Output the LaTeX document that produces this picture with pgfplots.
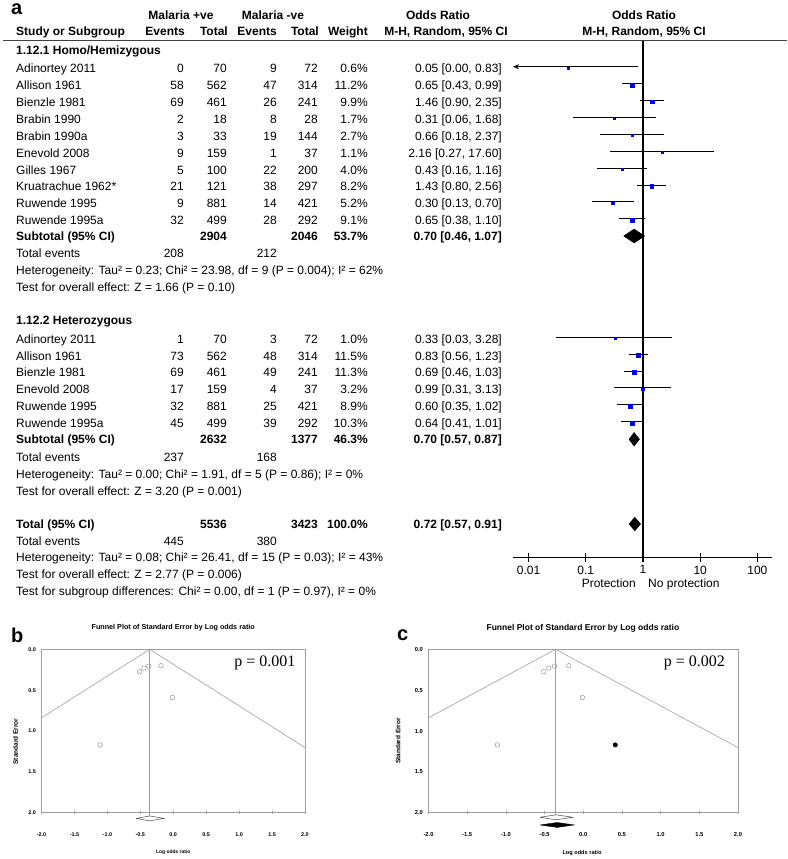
\documentclass[border=0pt]{standalone}
\usepackage{pgfplots}
\pgfplotsset{compat=1.18}
\usepackage{fontspec}
\setmainfont{Liberation Sans}
\newfontfamily\timesfont{Liberation Serif}
\usetikzlibrary{arrows.meta}
\newcommand\fs{\fontsize{12}{14}\selectfont}
\newcommand\TL[3]{\node[anchor=mid west,inner sep=0pt,font=\fs] at (#1pt,-#2pt) {#3};}
\newcommand\TR[3]{\node[anchor=mid east,inner sep=0pt,font=\fs] at (#1pt,-#2pt) {#3};}
\newcommand\TC[3]{\node[anchor=mid,inner sep=0pt,font=\fs] at (#1pt,-#2pt) {#3};}
\newcommand\BL[3]{\node[anchor=mid west,inner sep=0pt,font=\fs\bfseries] at (#1pt,-#2pt) {#3};}
\newcommand\BR[3]{\node[anchor=mid east,inner sep=0pt,font=\fs\bfseries] at (#1pt,-#2pt) {#3};}
\newcommand\BC[3]{\node[anchor=mid,inner sep=0pt,font=\fs\bfseries] at (#1pt,-#2pt) {#3};}
\newcommand\Row[7]{\TL{16}{#1}{#2}\TR{184}{#1}{#3}\TR{227}{#1}{#4}\TR{277}{#1}{#5}\TR{318}{#1}{#6}\TR{368}{#1}{#7}}

\begin{document}
\begin{tikzpicture}
\useasboundingbox (0pt,0pt) rectangle (787pt,-859pt);

% ---------------- panel a: table text ----------------
\node[anchor=west,inner sep=0pt,font=\fontsize{20}{22}\selectfont\bfseries] at (11pt,-9pt) {a};
\BC{181}{16.7}{Malaria +ve}
\BC{273}{16.7}{Malaria -ve}
\BC{438}{16.7}{Odds Ratio}
\BC{644}{16.7}{Odds Ratio}
\BL{16}{33.3}{Study or Subgroup}
\BR{185}{33.3}{Events}
\BR{228}{33.3}{Total}
\BR{277}{33.3}{Events}
\BR{319}{33.3}{Total}
\BR{368}{33.3}{Weight}
\BC{446}{33.3}{M-H, Random, 95\% CI}
\BC{644}{33.3}{M-H, Random, 95\% CI}
\draw[line width=1.2pt, black!75] (3pt,-40.7pt) -- (787pt,-40.7pt);

\BL{16}{52}{1.12.1 Homo/Hemizygous}
\Row{70}{Adinortey 2011}{0}{70}{9}{72}{0.6\%}
\Row{86.9}{Allison 1961}{58}{562}{47}{314}{11.2\%}
\Row{103.8}{Bienzle 1981}{69}{461}{26}{241}{9.9\%}
\Row{120.7}{Brabin 1990}{2}{18}{8}{28}{1.7\%}
\Row{137.6}{Brabin 1990a}{3}{33}{19}{144}{2.7\%}
\Row{154.5}{Enevold 2008}{9}{159}{1}{37}{1.1\%}
\Row{171.4}{Gilles 1967}{5}{100}{22}{200}{4.0\%}
\Row{188.3}{Kruatrachue 1962*}{21}{121}{38}{297}{8.2\%}
\Row{205.2}{Ruwende 1995}{9}{881}{14}{421}{5.2\%}
\Row{222.1}{Ruwende 1995a}{32}{499}{28}{292}{9.1\%}
\BL{16}{238}{Subtotal (95\% CI)}
\BR{227}{238}{2904}
\BR{318}{238}{2046}
\BR{368}{238}{53.7\%}
\TL{16}{255}{Total events}
\TR{184}{255}{208}
\TR{277}{255}{212}
\TL{16}{271.8}{Heterogeneity: Tau² = 0.23; Chi² = 23.98, df = 9 (P = 0.004); I² = 62\%}
\TL{16}{288.5}{Test for overall effect: Z = 1.66 (P = 0.10)}

\BL{16}{322}{1.12.2 Heterozygous}
\Row{340.5}{Adinortey 2011}{1}{70}{3}{72}{1.0\%}
\Row{357.4}{Allison 1961}{73}{562}{48}{314}{11.5\%}
\Row{374.3}{Bienzle 1981}{69}{461}{49}{241}{11.3\%}
\Row{391.2}{Enevold 2008}{17}{159}{4}{37}{3.2\%}
\Row{408.1}{Ruwende 1995}{32}{881}{25}{421}{8.9\%}
\Row{425}{Ruwende 1995a}{45}{499}{39}{292}{10.3\%}
\BL{16}{441}{Subtotal (95\% CI)}
\BR{227}{441}{2632}
\BR{318}{441}{1377}
\BR{368}{441}{46.3\%}
\TL{16}{459}{Total events}
\TR{184}{459}{237}
\TR{277}{459}{168}
\TL{16}{476}{Heterogeneity: Tau² = 0.00; Chi² = 1.91, df = 5 (P = 0.86); I² = 0\%}
\TL{16}{493}{Test for overall effect: Z = 3.20 (P = 0.001)}

\BL{16}{525.5}{Total (95\% CI)}
\BR{227}{525.5}{5536}
\BR{318}{525.5}{3423}
\BR{368}{525.5}{100.0\%}
\TL{16}{542.5}{Total events}
\TR{184}{542.5}{445}
\TR{277}{542.5}{380}
\TL{16}{559}{Heterogeneity: Tau² = 0.08; Chi² = 26.41, df = 15 (P = 0.03); I² = 43\%}
\TL{16}{575.7}{Test for overall effect: Z = 2.77 (P = 0.006)}
\TL{16}{592.5}{Test for subgroup differences: Chi² = 0.00, df = 1 (P = 0.97), I² = 0\%}

% odds ratio text column
\TR{502}{70}{0.05 [0.00, 0.83]}
\TR{502}{86.9}{0.65 [0.43, 0.99]}
\TR{502}{103.8}{1.46 [0.90, 2.35]}
\TR{502}{120.7}{0.31 [0.06, 1.68]}
\TR{502}{137.6}{0.66 [0.18, 2.37]}
\TR{502}{154.5}{2.16 [0.27, 17.60]}
\TR{502}{171.4}{0.43 [0.16, 1.16]}
\TR{502}{188.3}{1.43 [0.80, 2.56]}
\TR{502}{205.2}{0.30 [0.13, 0.70]}
\TR{502}{222.1}{0.65 [0.38, 1.10]}
\BR{502}{238}{0.70 [0.46, 1.07]}
\TR{502}{340.5}{0.33 [0.03, 3.28]}
\TR{502}{357.4}{0.83 [0.56, 1.23]}
\TR{502}{374.3}{0.69 [0.46, 1.03]}
\TR{502}{391.2}{0.99 [0.31, 3.13]}
\TR{502}{408.1}{0.60 [0.35, 1.02]}
\TR{502}{425}{0.64 [0.41, 1.01]}
\BR{502}{441}{0.70 [0.57, 0.87]}
\BR{502}{525.5}{0.72 [0.57, 0.91]}

\TR{636}{584.8}{Protection}
\TL{648}{584.8}{No protection}

% ---------------- panel a: forest plot ----------------
\begin{axis}[
  at={(513pt,-40.7pt)}, anchor=north west,
  width=259pt, height=517pt, scale only axis,
  xmode=log, xmin=0.00535, xmax=180,
  ymin=-557.7, ymax=-40.7,
  axis x line=bottom, axis y line=none,
  x axis line style={-, line width=1.2pt},
  xtick={0.01,0.1,1,10,100},
  xticklabels={0.01,0.1,1,10,100},
  xminorticks=false,
  xtick align=center, major tick length=9pt,
  xtick style={line width=1.2pt, black},
  /pgf/number format/assume math mode=true,
  xticklabel style={font=\fs, yshift=0pt},
  clip=false,
]
\addplot[black, line width=1.1pt] coordinates {(1,-40.7) (1,-557.7)};
\addplot[black, line width=0.9pt, unbounded coords=jump] table {
x y
0.43 -83.6
0.99 -83.6
nan nan
0.90 -100.5
2.35 -100.5
nan nan
0.06 -117.4
1.68 -117.4
nan nan
0.18 -134.3
2.37 -134.3
nan nan
0.27 -151.2
17.60 -151.2
nan nan
0.16 -168.1
1.16 -168.1
nan nan
0.80 -185
2.56 -185
nan nan
0.13 -201.9
0.70 -201.9
nan nan
0.38 -218.8
1.10 -218.8
nan nan
0.03 -337.2
3.28 -337.2
nan nan
0.56 -354.1
1.23 -354.1
nan nan
0.46 -371
1.03 -371
nan nan
0.31 -387.9
3.13 -387.9
nan nan
0.35 -404.8
1.02 -404.8
nan nan
0.41 -421.7
1.01 -421.7
};
\addplot[black, line width=0.9pt, -{Stealth[length=6pt,width=5pt]}] coordinates {(0.83,-66.7) (0.00535,-66.7)};
\addplot[scatter, only marks, mark=square*,
  scatter/use mapped color={draw=blue, fill=blue},
  visualization depends on={\thisrow{ms} \as \msz},
  scatter/@pre marker code/.append style={/tikz/mark size=\msz}]
 table {
x y ms
0.05 -68 0.85
0.65 -84.9 2.0
1.46 -101.8 1.89
0.31 -118.7 0.85
0.66 -135.6 0.99
2.16 -152.5 0.85
0.43 -169.4 1.2
1.43 -186.3 1.72
0.30 -203.2 1.37
0.65 -220.1 1.81
0.33 -338.5 0.85
0.83 -355.4 2.03
0.69 -372.3 2.02
0.99 -389.2 1.07
0.60 -406.1 1.79
0.64 -423 1.93
};
\addplot[fill=black, draw=black] coordinates {(0.46,-236) (0.70,-229) (1.07,-236) (0.70,-243) (0.46,-236)};
\addplot[fill=black, draw=black] coordinates {(0.57,-439.3) (0.70,-432.5) (0.87,-439.3) (0.70,-446.1) (0.57,-439.3)};
\addplot[fill=black, draw=black] coordinates {(0.57,-524) (0.72,-517.2) (0.91,-524) (0.72,-530.8) (0.57,-524)};
\end{axis}

% ---------------- panel b ----------------
\node[anchor=west,inner sep=0pt,font=\fontsize{20}{22}\selectfont\bfseries] at (11pt,-635pt) {b};
\begin{axis}[
  at={(41.5pt,-812.7pt)}, anchor=south west,
  width=263.5pt, height=163.4pt, scale only axis,
  xmin=-2, xmax=2, ymin=-2, ymax=0,
  clip=false,
  axis line style={gray!75, line width=0.6pt},
  xtick={-2,-1.5,-1,-0.5,0,0.5,1,1.5,2},
  xticklabels={-2.0,-1.5,-1.0,-0.5,0.0,0.5,1.0,1.5,2.0},
  ytick={-2,-1.5,-1,-0.5,0},
  yticklabels={2.0,1.5,1.0,0.5,0.0},
  xtick pos=bottom, ytick pos=left,
  xtick align=center, major tick length=2.5pt,
  xtick style={gray!75, line width=0.6pt}, ytick style={draw=none},
  tick label style={font=\fontsize{5.4}{6}\selectfont\bfseries},
  /pgf/number format/assume math mode=true,
  xticklabel style={yshift=-15pt},
  yticklabel style={xshift=-2pt},
  title={Funnel Plot of Standard Error by Log odds ratio},
  title style={at={(axis description cs:0.5,1.094)}, anchor=center, font=\fontsize{7.2}{8}\selectfont\bfseries},
  xlabel={Log odds ratio},
  xlabel style={at={(axis description cs:0.5,-0.245)}, anchor=center, font=\fontsize{4.9}{5}\selectfont\bfseries},
  ylabel={Standard Error},
  ylabel style={at={(axis description cs:-0.0987,0.436)}, anchor=center, font=\fontsize{6.5}{7}\selectfont\bfseries},
]
\addplot[gray!75, line width=0.6pt] coordinates {(-2,-0.838) (-0.357,0) (2,-1.2026)};
\addplot[gray!75, line width=0.6pt] coordinates {(-0.357,0) (-0.357,-2.07)};
\addplot[draw=gray!60!black, fill=white, line width=0.5pt] coordinates {(-0.562,-2.07) (-0.357,-2.04) (-0.139,-2.07) (-0.357,-2.10) (-0.562,-2.07)};
\addplot[only marks, mark=o, mark size=2.3pt, gray!80, mark options={line width=0.5pt}] table {
x y
-0.511 -0.273
-0.446 -0.230
-0.371 -0.206
-0.186 -0.201
-0.010 -0.590
-1.109 -1.170
};
\node[font=\timesfont\fontsize{16}{18}\selectfont] at (axis description cs:0.848,0.916) {p = 0.001};
\end{axis}

% ---------------- panel c ----------------
\node[anchor=west,inner sep=0pt,font=\fontsize{20}{22}\selectfont\bfseries] at (397pt,-635pt) {c};
\begin{axis}[
  at={(428.5pt,-812.7pt)}, anchor=south west,
  width=309.5pt, height=163.4pt, scale only axis,
  xmin=-2, xmax=2, ymin=-2, ymax=0,
  clip=false,
  axis line style={gray!75, line width=0.6pt},
  xtick={-2,-1.5,-1,-0.5,0,0.5,1,1.5,2},
  xticklabels={-2.0,-1.5,-1.0,-0.5,0.0,0.5,1.0,1.5,2.0},
  ytick={-2,-1.5,-1,-0.5,0},
  yticklabels={2.0,1.5,1.0,0.5,0.0},
  xtick pos=bottom, ytick pos=left,
  xtick align=center, major tick length=2.5pt,
  xtick style={gray!75, line width=0.6pt}, ytick style={draw=none},
  tick label style={font=\fontsize{5.8}{6}\selectfont\bfseries},
  /pgf/number format/assume math mode=true,
  xticklabel style={yshift=-15pt},
  yticklabel style={xshift=-2pt},
  title={Funnel Plot of Standard Error by Log odds ratio},
  title style={at={(axis description cs:0.499,1.094)}, anchor=center, font=\fontsize{8.5}{9}\selectfont\bfseries},
  xlabel={Log odds ratio},
  xlabel style={at={(axis description cs:0.496,-0.245)}, anchor=center, font=\fontsize{5.6}{6}\selectfont\bfseries},
  ylabel={Standard Error},
  ylabel style={at={(axis description cs:-0.0985,0.439)}, anchor=center, font=\fontsize{6.5}{7}\selectfont\bfseries},
]
\addplot[gray!75, line width=0.6pt] coordinates {(-2,-0.838) (-0.357,0) (2,-1.2026)};
\addplot[gray!75, line width=0.6pt] coordinates {(-0.357,0) (-0.357,-2.06)};
\addplot[draw=gray!60!black, fill=white, line width=0.5pt] coordinates {(-0.562,-2.056) (-0.352,-2.026) (-0.135,-2.056) (-0.352,-2.086) (-0.562,-2.056)};
\addplot[draw=black, fill=black] coordinates {(-0.557,-2.15) (-0.337,-2.12) (-0.117,-2.15) (-0.337,-2.18) (-0.557,-2.15)};
\addplot[only marks, mark=o, mark size=2.3pt, gray!80, mark options={line width=0.5pt}] table {
x y
-0.511 -0.273
-0.446 -0.230
-0.371 -0.206
-0.186 -0.201
-0.010 -0.590
-1.109 -1.170
};
\addplot[only marks, mark=*, mark size=2.2pt, black] coordinates {(0.414,-1.17)};
\node[font=\timesfont\fontsize{16}{18}\selectfont] at (axis description cs:0.859,0.916) {p = 0.002};
\end{axis}
\end{tikzpicture}
\end{document}
